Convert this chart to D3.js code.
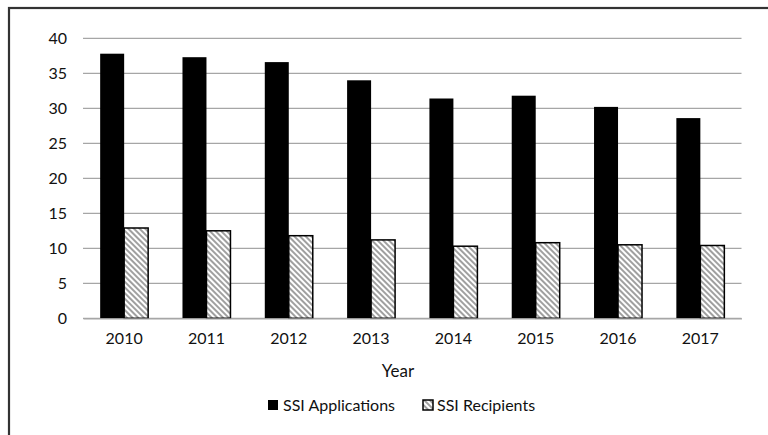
<!DOCTYPE html>
<html><head><meta charset="utf-8">
<script src="https://cdn.jsdelivr.net/npm/d3@7"></script>
<style>body{margin:0;background:#fff}svg{display:block}text{font-family:Lato,"Open Sans",sans-serif;fill:#111}</style>
</head><body>
<script>
const years = ["2010","2011","2012","2013","2014","2015","2016","2017"];
const applications = [37.8, 37.3, 36.6, 34.0, 31.4, 31.8, 30.2, 28.6];
const recipients = [12.9, 12.5, 11.8, 11.2, 10.3, 10.8, 10.5, 10.4];
const yTicks = [0,5,10,15,20,25,30,35,40];
const seriesNames = ["SSI Applications","SSI Recipients"];

(function(){
const W=768,H=435;
const svg=d3.select("body").append("svg").attr("width",W).attr("height",H);
const defs=svg.append("defs");
const pat=defs.append("pattern").attr("id","hatch").attr("patternUnits","userSpaceOnUse")
  .attr("width",4).attr("height",4).attr("patternTransform","rotate(-45)");
pat.append("rect").attr("width",4).attr("height",4).attr("fill","#fff");
pat.append("rect").attr("width",2).attr("height",4).attr("fill","#a0a0a0");

// frame
svg.append("rect").attr("x",9).attr("y",8).attr("width",800).attr("height",460)
  .attr("fill","none").attr("stroke","#333").attr("stroke-width",2.2);

const pL=83,pR=741.5,pT=38.3,pB=318.3;
const x=d3.scaleBand().domain(years).range([pL,pR]).paddingInner(0.417).paddingOuter(0.2085);
const y=d3.scaleLinear().domain([0,40]).range([pB,pT]);

const g=svg.append("g");
g.selectAll("line.grid").data(yTicks).join("line").attr("class","grid")
  .attr("x1",pL).attr("x2",pR).attr("y1",d=>y(d)).attr("y2",d=>y(d))
  .attr("stroke","#a6a6a6").attr("stroke-width",1.3);

const yAxis=d3.axisLeft(y).tickValues(yTicks).tickSize(0).tickPadding(16);
const ya=svg.append("g").attr("transform",`translate(${pL},0)`).call(yAxis);
ya.select(".domain").remove();
ya.selectAll("text").style("font-size","16px").style("font-family","Lato,'Open Sans',sans-serif").attr("fill","#111");

const bw=x.bandwidth()/2;
svg.selectAll("rect.app").data(years).join("rect").attr("class","app")
  .attr("x",d=>x(d)).attr("width",bw)
  .attr("y",(d,i)=>y(applications[i])).attr("height",(d,i)=>pB-y(applications[i]))
  .attr("fill","#000");
svg.selectAll("rect.rec").data(years).join("rect").attr("class","rec")
  .attr("x",d=>x(d)+bw).attr("width",bw)
  .attr("y",(d,i)=>y(recipients[i])).attr("height",(d,i)=>pB-y(recipients[i]))
  .attr("fill","url(#hatch)").attr("stroke","#000").attr("stroke-width",1.5);

const xAxis=d3.axisBottom(x).tickSize(0).tickPadding(14);
const xa=svg.append("g").attr("transform",`translate(0,${pB})`).call(xAxis);
xa.select(".domain").attr("stroke","#a6a6a6").attr("stroke-width",1.3);
xa.selectAll("text").style("font-size","16px").style("font-family","Lato,'Open Sans',sans-serif").attr("fill","#111");

svg.append("text").attr("x",398).attr("y",377).attr("text-anchor","middle")
  .style("font-size","17px").text("Year");

const lg=svg.append("g");
lg.append("rect").attr("x",268).attr("y",400).attr("width",10).attr("height",10).attr("fill","#000");
lg.append("text").attr("x",283).attr("y",411).style("font-size","16px").text(seriesNames[0]);
lg.append("rect").attr("x",423).attr("y",400).attr("width",10).attr("height",10).attr("fill","url(#hatch)").attr("stroke","#000").attr("stroke-width",1.5);
lg.append("text").attr("x",437).attr("y",411).style("font-size","16px").text(seriesNames[1]);
})();
</script>
</body></html>
